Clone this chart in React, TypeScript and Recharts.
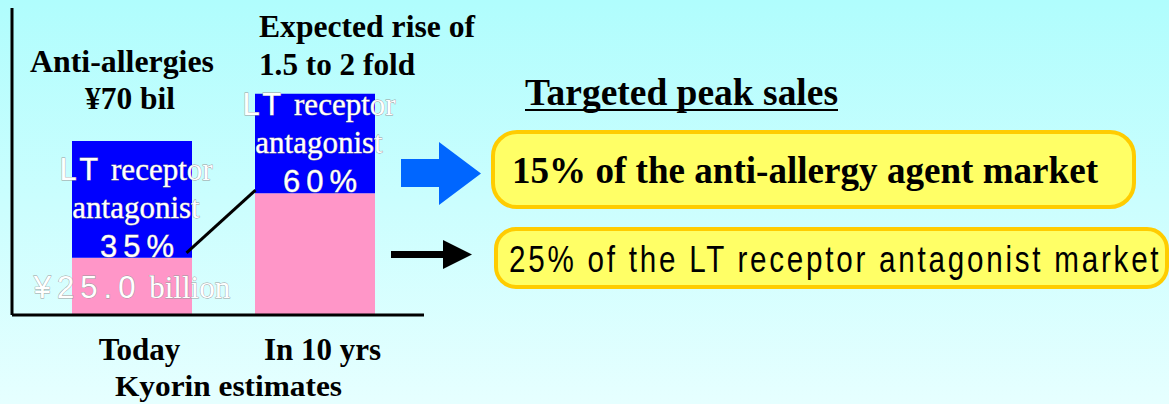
import { BarChart, Bar, XAxis, YAxis, ReferenceLine, Rectangle } from "recharts";

const categories = ["Today", "In 10 yrs"];
const baseValues = [23, 49];
const ltValues = [47, 40];
const ltShareLabels = ["35%", "60%"];
const baseNotes = ["¥25.0", ""];

const data = categories.map((name, i) => ({
  name,
  base: baseValues[i],
  lt: ltValues[i],
  share: ltShareLabels[i],
  note: baseNotes[i],
}));

const SERIF = '"Liberation Serif", "Times New Roman", serif';
const SANS = '"Liberation Sans", Arial, sans-serif';

const hollow = {
  fill: "#fff",
  stroke: "#999",
  strokeWidth: 0.8,
  paintOrder: "stroke" as const,
  fontSize: 31,
};

function LtBar(props: any) {
  const { x, y, width, height, payload } = props;
  const cx = x + width / 2 + 4;
  const bottom = y + height;
  return (
    <g>
      <Rectangle x={x} y={y} width={width} height={height} fill="#0000ff" />
      <text x={cx} y={bottom - 78} textAnchor="middle" {...hollow}>
        <tspan fontFamily={SANS} letterSpacing={5}>LT</tspan>
        <tspan fontFamily={SERIF}> receptor</tspan>
      </text>
      <text x={cx} y={bottom - 40} textAnchor="middle" fontFamily={SERIF} {...hollow}>
        antagonist
      </text>
      <text x={cx + 4} y={bottom - 1} textAnchor="middle" fontFamily={SANS} letterSpacing={6} {...hollow}>
        {payload.share}
      </text>
    </g>
  );
}

function BaseBar(props: any) {
  const { x, y, width, height, payload } = props;
  return (
    <g>
      <Rectangle x={x} y={y} width={width} height={height} fill="#ff96c8" />
      {payload.note ? (
        <text x={x + width / 2} y={y + 40} textAnchor="middle" {...hollow}>
          <tspan fontFamily={SANS} letterSpacing={6}>{payload.note}</tspan>
          <tspan fontFamily={SERIF}> billion</tspan>
        </text>
      ) : null}
    </g>
  );
}

function CategoryTick(props: any) {
  const { x, y, payload } = props;
  return (
    <text
      x={x + 8}
      y={y}
      dy={45}
      textAnchor="middle"
      fontFamily={SERIF}
      fontWeight="bold"
      fontSize={31}
      fill="#000"
    >
      {payload.value}
    </text>
  );
}

function Connector(props: any) {
  const { x1, y1, x2, y2 } = props;
  return <line x1={x1 + 55} y1={y1 - 5} x2={x2 - 59} y2={y2 - 3} stroke="#000" strokeWidth={3} />;
}

function Annotations() {
  const bold = { fontFamily: SERIF, fontWeight: "bold" as const, fill: "#000" };
  return (
    <svg width={1169} height={404} style={{ position: "absolute", left: 0, top: 0 }}>
      <text x={30} y={72} fontSize={31} textLength={184} lengthAdjust="spacingAndGlyphs" {...bold}>
        Anti-allergies
      </text>
      <text x={85} y={109} fontSize={31} textLength={90} lengthAdjust="spacingAndGlyphs" {...bold}>
        ¥70 bil
      </text>
      <text x={259} y={37} fontSize={31} textLength={216} lengthAdjust="spacingAndGlyphs" {...bold}>
        Expected rise of
      </text>
      <text x={259} y={75} fontSize={31} textLength={156} lengthAdjust="spacingAndGlyphs" {...bold}>
        1.5 to 2 fold
      </text>
      <text x={115} y={396} fontSize={29} textLength={227} lengthAdjust="spacingAndGlyphs" {...bold}>
        Kyorin estimates
      </text>

      <text x={525} y={105} fontSize={37} textLength={313} lengthAdjust="spacingAndGlyphs" {...bold}>
        Targeted peak sales
      </text>
      <line x1={525} y1={110} x2={838} y2={110} stroke="#000" strokeWidth={2} />

      <polygon points="401,159 439,159 439,142 481,173.5 439,205 439,187 401,187" fill="#0066ff" />
      <rect x={391} y={251} width={53} height={7} fill="#000" />
      <polygon points="443,240 472,254.5 443,269" fill="#000" />

      <rect x={493} y={132} width={641} height={75} rx={24} fill="#ffff66" stroke="#ffcc00" strokeWidth={4} />
      <text x={512} y={183} fontSize={38} textLength={586} lengthAdjust="spacingAndGlyphs" {...bold}>
        15% of the anti-allergy agent market
      </text>

      <rect x={496} y={229} width={671} height={58} rx={20} fill="#ffff66" stroke="#ffcc00" strokeWidth={4} />
      <text
        transform="translate(509 272) scale(0.8 1)"
        x={0}
        y={0}
        fontSize={37}
        fontFamily={SANS}
        fill="#000"
        textLength={812}
        lengthAdjust="spacing"
      >
        25% of the LT receptor antagonist market
      </text>
    </svg>
  );
}

export default function App() {
  return (
    <div
      style={{
        position: "absolute",
        left: 0,
        top: 0,
        width: 1169,
        height: 404,
        overflow: "hidden",
        background: "linear-gradient(180deg, #b0fdfd 0%, #e6ffff 100%)",
      }}
    >
      <Annotations />
      <div style={{ position: "absolute", left: 0, top: 0 }}>
        <BarChart
          width={430}
          height={404}
          data={data}
          margin={{ top: 8, right: 6, left: 9, bottom: 0 }}
          barSize={120}
        >
          <XAxis
            dataKey="name"
            height={89}
            padding={{ left: 28, right: 18 }}
            axisLine={{ stroke: "#000", strokeWidth: 3 }}
            tickLine={false}
            tickSize={0}
            tickMargin={0}
            tick={<CategoryTick />}
            interval={0}
          />
          <YAxis
            width={3}
            domain={[0, 123.5]}
            allowDataOverflow
            tick={false}
            tickLine={false}
            axisLine={{ stroke: "#000", strokeWidth: 3 }}
          />
          <Bar dataKey="base" stackId="s" shape={<BaseBar />} isAnimationActive={false} />
          <Bar dataKey="lt" stackId="s" shape={<LtBar />} isAnimationActive={false} />
          <ReferenceLine
            segment={[
              { x: categories[0], y: baseValues[0] },
              { x: categories[1], y: baseValues[1] },
            ]}
            shape={<Connector />}
          />
        </BarChart>
      </div>
    </div>
  );
}
